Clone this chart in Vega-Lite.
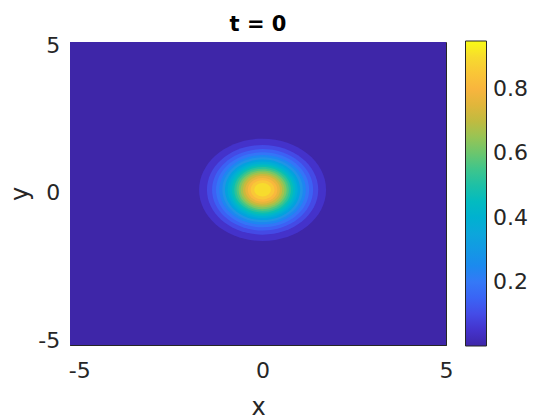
{
  "$schema": "https://vega.github.io/schema/vega-lite/v6.json",
  "width": 376,
  "height": 303,
  "autosize": {"type": "none"},
  "padding": {"left": 70, "top": 42, "right": 114, "bottom": 75},
  "background": "white",
  "title": {"text": "t = 0", "fontSize": 21, "fontWeight": "bold", "font": "DejaVu Sans", "color": "#000000", "anchor": "middle", "frame": "group", "offset": -1},
  "data": {"values": [
    {"x": 0, "y": 0, "level": 0, "r": 8},
    {"x": 0, "y": 0, "level": 0.0475, "r": 1.731},
    {"x": 0, "y": 0, "level": 0.095, "r": 1.517},
    {"x": 0, "y": 0, "level": 0.1425, "r": 1.377},
    {"x": 0, "y": 0, "level": 0.19, "r": 1.269},
    {"x": 0, "y": 0, "level": 0.2375, "r": 1.177},
    {"x": 0, "y": 0, "level": 0.285, "r": 1.097},
    {"x": 0, "y": 0, "level": 0.3325, "r": 1.025},
    {"x": 0, "y": 0, "level": 0.38, "r": 0.957},
    {"x": 0, "y": 0, "level": 0.4275, "r": 0.894},
    {"x": 0, "y": 0, "level": 0.475, "r": 0.833},
    {"x": 0, "y": 0, "level": 0.5225, "r": 0.773},
    {"x": 0, "y": 0, "level": 0.57, "r": 0.715},
    {"x": 0, "y": 0, "level": 0.6175, "r": 0.656},
    {"x": 0, "y": 0, "level": 0.665, "r": 0.597},
    {"x": 0, "y": 0, "level": 0.7125, "r": 0.536},
    {"x": 0, "y": 0, "level": 0.76, "r": 0.472},
    {"x": 0, "y": 0, "level": 0.8075, "r": 0.403},
    {"x": 0, "y": 0, "level": 0.855, "r": 0.325},
    {"x": 0, "y": 0, "level": 0.9025, "r": 0.226}
  ]},
  "mark": {"type": "point", "filled": true, "opacity": 1, "strokeWidth": 0, "clip": true, "shape": "M-1,0A1,0.8059,0,1,1,1,0A1,0.8059,0,1,1,-1,0Z"},
  "encoding": {
    "x": {"field": "x", "type": "quantitative", "scale": {"domain": [-5.25, 5], "nice": false, "zero": false},
      "axis": {"values": [-5, 0, 5], "labelExpr": "'' + datum.value", "labelFlush": false, "title": "x", "grid": false, "tickSize": -4, "labelPadding": 19, "titlePadding": 14}},
    "y": {"field": "y", "type": "quantitative", "scale": {"domain": [-5.25, 5], "nice": false, "zero": false},
      "axis": {"values": [-5, 0, 5], "labelExpr": "'' + datum.value", "labelFlush": false, "labelOffset": 3, "title": "y", "grid": false, "tickSize": -4, "labelPadding": 14.3, "titlePadding": 5}},
    "size": {"field": "r", "type": "quantitative", "scale": {"type": "pow", "exponent": 2, "domain": [0, 8], "range": [0, 344481], "nice": false, "zero": true}, "legend": null},
    "color": {"field": "level", "type": "quantitative",
      "scale": {"domain": [0, 0.05, 0.12, 0.2, 0.28, 0.36, 0.445, 0.49, 0.57, 0.65, 0.71, 0.79, 0.86, 0.92, 0.95],
                "range": ["#3E26A8", "#4433CC", "#4356F2", "#3479F7", "#2493E6", "#14A8D9", "#07BAC2", "#1ABFAA", "#4DC680", "#97C455", "#C8B93E", "#F8B23F", "#F9CA36", "#F5E42A", "#F9FB15"]},
      "legend": {"orient": "none", "legendX": 395.5, "legendY": -1, "title": null, "direction": "vertical", "gradientLength": 305, "gradientThickness": 21, "gradientStrokeColor": "#262626", "gradientStrokeWidth": 1, "values": [0.2, 0.4, 0.6, 0.8], "labelFontSize": 22, "labelFont": "DejaVu Sans", "labelColor": "#262626", "labelOffset": 6.5, "labelOverlap": false, "padding": 0}},
    "order": {"field": "level", "type": "quantitative"}
  },
  "config": {
    "view": {"stroke": "#262626", "strokeWidth": 1},
    "axis": {"labelFont": "DejaVu Sans", "labelFontSize": 22, "labelColor": "#262626", "titleFont": "DejaVu Sans", "titleFontSize": 24, "titleFontWeight": "normal", "titleColor": "#262626", "domainColor": "#262626", "tickColor": "#262626"}
  }
}
